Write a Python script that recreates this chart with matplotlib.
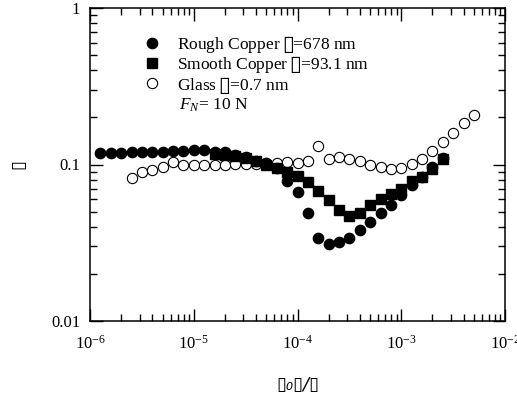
import numpy as np
import matplotlib
matplotlib.use("Agg")
import matplotlib.pyplot as plt
from matplotlib.lines import Line2D
from matplotlib.ticker import LogLocator, NullFormatter

plt.rcParams["font.family"] = ["Liberation Serif", "DejaVu Sans"]
plt.rcParams["mathtext.fontset"] = "custom"
plt.rcParams["mathtext.rm"] = "Liberation Serif"
plt.rcParams["mathtext.it"] = "Liberation Serif:italic"
plt.rcParams["mathtext.fallback"] = "stix"

# log10 of x, measured in 0.1 decade steps
LOGX_ROUGH = np.arange(-59, -25) / 10.0
LOGX_SMOOTH = np.arange(-48, -25) / 10.0
LOGX_GLASS = np.arange(-56, -22) / 10.0

rough_cu = [0.118, 0.118, 0.118, 0.120, 0.120, 0.120, 0.120, 0.122, 0.122, 0.123,
            0.123, 0.121, 0.120, 0.115, 0.111, 0.106, 0.102, 0.095, 0.078, 0.067,
            0.049, 0.034, 0.031, 0.032, 0.034, 0.038, 0.043, 0.049, 0.055, 0.064,
            0.074, 0.083, 0.097, 0.110]
smooth_cu = [0.116, 0.115, 0.113, 0.110, 0.106, 0.100, 0.095, 0.089, 0.084, 0.077,
             0.068, 0.059, 0.051, 0.047, 0.049, 0.055, 0.060, 0.065, 0.070, 0.078,
             0.083, 0.094, 0.108]
glass = [0.082, 0.089, 0.092, 0.097, 0.103, 0.100, 0.100, 0.099, 0.099, 0.099,
         0.101, 0.101, 0.101, 0.102, 0.102, 0.103, 0.102, 0.106, 0.131, 0.108,
         0.112, 0.108, 0.105, 0.100, 0.097, 0.094, 0.095, 0.101, 0.109, 0.122,
         0.139, 0.159, 0.183, 0.207]

LABELS = ["Rough Copper $\\mathit{\u25af}$=678 nm",
          "Smooth Copper $\\mathit{\u25af}$=93.1 nm",
          "Glass $\\mathit{\u25af}$=0.7 nm"]

fig = plt.figure(figsize=(5.17, 4.0), dpi=100)
ax = fig.add_axes([0.1741, 0.1975, 0.8027, 0.7825])

ms = 7.4
ax.plot(10 ** LOGX_ROUGH, rough_cu, "o", ms=ms, color="black", mec="black", zorder=3)
ax.plot(10 ** LOGX_SMOOTH, smooth_cu, "s", ms=ms - 0.4, color="black", mec="black", zorder=2)
ax.plot(10 ** LOGX_GLASS, glass, "o", ms=ms, mfc="white", mec="black", mew=0.8, zorder=1)

ax.set_xscale("log")
ax.set_yscale("log")
ax.set_xlim(1e-6, 1e-2)
ax.set_ylim(0.01, 1)

ax.set_yticks([0.01, 0.1, 1])
ax.set_yticklabels(["0.01", "0.1", "1"])
ax.yaxis.set_minor_locator(LogLocator(base=10, subs=np.arange(2, 10), numticks=100))
ax.yaxis.set_minor_formatter(NullFormatter())
ax.xaxis.set_major_locator(LogLocator(base=10, numticks=100))
ax.xaxis.set_minor_locator(LogLocator(base=10, subs=np.arange(2, 10), numticks=100))
ax.xaxis.set_minor_formatter(NullFormatter())

ax.tick_params(which="both", direction="in", top=True, right=True, labelsize=12, width=1)
ax.tick_params(which="major", length=9)
ax.tick_params(which="minor", length=5)
ax.tick_params(axis="x", which="major", pad=10)
ax.tick_params(axis="y", which="major", pad=7)
for sp in ax.spines.values():
    sp.set_linewidth(1.1)

ax.set_ylabel("\u25af", fontsize=13, labelpad=17, family="DejaVu Sans", style="italic")
ax.set_xlabel("\u25af\u2080\u25af/\u25af", fontsize=13, labelpad=17,
              family="DejaVu Sans", style="italic")

handles = [Line2D([], [], ls="none", marker="o", ms=ms, color="black"),
           Line2D([], [], ls="none", marker="s", ms=ms - 0.4, color="black"),
           Line2D([], [], ls="none", marker="o", ms=ms, mfc="white", mec="black", mew=0.8)]
ax.legend(handles, LABELS, loc="upper left", bbox_to_anchor=(0.1, 0.955), frameon=False,
          fontsize=12.5, handlelength=1.0, handletextpad=0.9, labelspacing=-0.05,
          borderpad=0.2)
ax.text(0.214, 0.69, "$F_N$= 10 N", transform=ax.transAxes, fontsize=12.5, va="center")

fig.savefig("out.png", dpi=100)
